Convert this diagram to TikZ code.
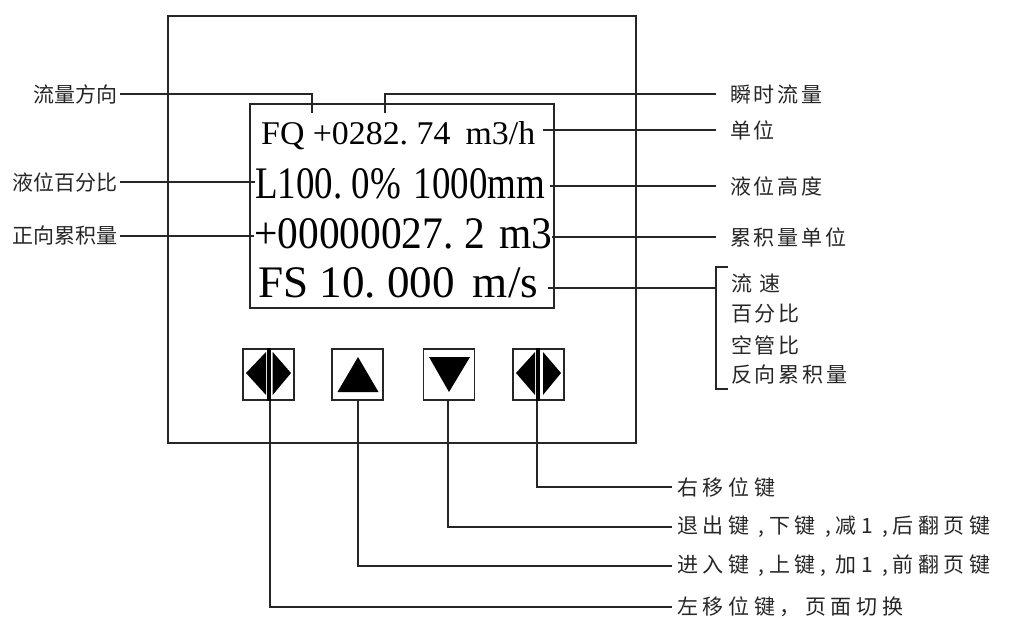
\documentclass[tikz,border=0pt]{standalone}
\usepackage{fontspec}
\setmainfont{Liberation Serif}
\newfontfamily\cjkL{Noto Sans CJK SC}
\newfontfamily\cjkR[LetterSpace=13]{Noto Sans CJK SC}
\newfontfamily\cjkB[LetterSpace=22]{Noto Sans CJK SC}
\usetikzlibrary{calc}
\tikzset{
  lab/.style={inner sep=0pt, text=black!85},
  llab/.style={lab, anchor=east, font=\fontsize{21pt}{24pt}\selectfont\cjkL},
  rlab/.style={lab, anchor=west, font=\fontsize{21pt}{24pt}\selectfont\cjkR},
  blab/.style={lab, anchor=west, font=\fontsize{21pt}{24pt}\selectfont\cjkB},
  disp/.style={anchor=base west, inner sep=0pt},
  frame/.style={draw=black!85, line width=1.3pt},
  lead/.style={draw=black!85, line width=1.1pt},
  btn/.style={draw=black!85, line width=1.1pt, minimum size=51pt, inner sep=0pt},
  sym/.style={fill=black}
}
\begin{document}
\begin{tikzpicture}[x=1pt,y=-1pt]
\useasboundingbox (0,0) rectangle (1011,621);
% outer panel and display
\node[frame, minimum width=468pt, minimum height=427pt, inner sep=0pt] (panel) at (402,229.5) {};
\node[frame, minimum width=304pt, minimum height=204pt, inner sep=0pt] (lcd) at (402,206) {};
% display lines
\node[disp] (l1) at (261,144) {\resizebox{274pt}{23pt}{FQ +0282.\kern0.25em74 \kern0.2em m3/h}};
\node[disp] (l2) at (255,198) {\resizebox{290pt}{30pt}{L100.\kern0.25em0\% \kern0.1em 1000mm}};
\node[disp] (l3) at (254,248) {\resizebox{298pt}{30pt}{+00000027.\kern0.25em2 \kern0.1em m3}};
\node[disp] (l4) at (258,297) {\resizebox{280pt}{30pt}{FS 10.\kern0.25em000 \kern0.15em m/s}};
% left labels
\node[llab] (ll1) at (118,94) {流量方向};
\node[llab] (ll2) at (118,182) {液位百分比};
\node[llab] (ll3) at (118,236) {正向累积量};
% right labels
\node[rlab] (u0) at (730,94) {瞬时流量};
\node[rlab] (u1) at (730,130) {单位};
\node[rlab] (u2) at (730,186) {液位高度};
\node[rlab] (u3) at (730,237) {累积量单位};
\node[rlab] (b1) at (731,283) {流 速};
\node[rlab] (b2) at (731,314) {百分比};
\node[rlab] (b3) at (731,345) {空管比};
\node[rlab] (b4) at (731,375) {反向累积量};
% coordinates
\coordinate (q0) at (312,113);
\coordinate (q1) at (385,113);
\coordinate (bt) at (716,267);
\coordinate (bb) at (716,389);
\coordinate (bm) at (716,288);
% left leaders
\draw[lead] ([xshift=2pt]ll1.east) -| (q0);
\draw[lead] ([xshift=2pt]ll2.east) -- (l2.west |- ll2.east);
\draw[lead] ([xshift=2pt]ll3.east) -- (l3.west |- ll3.east);
% right leaders
\draw[lead] (q1) |- ([xshift=-14pt]u0.west);
\draw[lead] ([xshift=8pt]l1.east |- u1.west) -- ([xshift=-14pt]u1.west);
\draw[lead] ([xshift=4pt]l2.east |- u2.west) -- ([xshift=-14pt]u2.west);
\draw[lead] (l3.east |- u3.west) -- ([xshift=-14pt]u3.west);
\draw[lead] ([xshift=10pt]l4.east |- bm) -- (bm);
\draw[lead] ([xshift=12pt]bt) -- (bt) -- (bb) -- ([xshift=12pt]bb);
% buttons
\node[btn] (k1) at (268.5,374.5) {};
\node[btn] (k2) at (357.5,374.5) {};
\node[btn] (k3) at (449,374.5) {};
\node[btn] (k4) at (538.5,374.5) {};
\begin{scope}[shift={(k1.center)}]
  \fill[sym] (-22.5,-1.5) -- (-2.5,-22.5) -- (-2.5,20.5) -- cycle;
  \fill[sym] (22.5,-1.5) -- (4.2,-22.5) -- (4.2,20.5) -- cycle;
  \fill[sym] (-1.2,-26.5) rectangle (2.2,26.5);
\end{scope}
\begin{scope}[shift={(k4.center)}]
  \fill[sym] (-22.5,-1.5) -- (-3.5,-22.5) -- (-3.5,20.5) -- cycle;
  \fill[sym] (22.5,-1.5) -- (4.5,-22.5) -- (4.5,20.5) -- cycle;
  \fill[sym] (-2.5,-26.5) rectangle (1.5,26.5);
\end{scope}
\fill[sym] ($(k2.center)+(0.5,-17.5)$) -- ($(k2.center)+(21,17.5)$) -- ($(k2.center)+(-20,17.5)$) -- cycle;
\fill[sym] ($(k3.center)+(0,17.5)$) -- ($(k3.center)+(21,-17.5)$) -- ($(k3.center)+(-20,-17.5)$) -- cycle;
% bottom labels
\node[blab] (d4) at (677,487) {右移位键};
\node[blab] (d3) at (677,527) {退出键 ,下键 ,减1 ,后翻页键};
\node[blab] (d2) at (677,566) {进入键 ,上键, 加1 ,前翻页键};
\node[blab] (d1) at (677,607) {左移位键，页面切换};
\draw[lead] ([xshift=1.5pt]k1.south) |- ([xshift=-5pt]d1.west);
\draw[lead] ([xshift=0.5pt]k2.south) |- ([xshift=-5pt]d2.west);
\draw[lead] ([xshift=-1pt]k3.south) |- ([xshift=-5pt]d3.west);
\draw[lead] ([xshift=-1.5pt]k4.south) |- ([xshift=-5pt]d4.west);
\end{tikzpicture}
\end{document}
